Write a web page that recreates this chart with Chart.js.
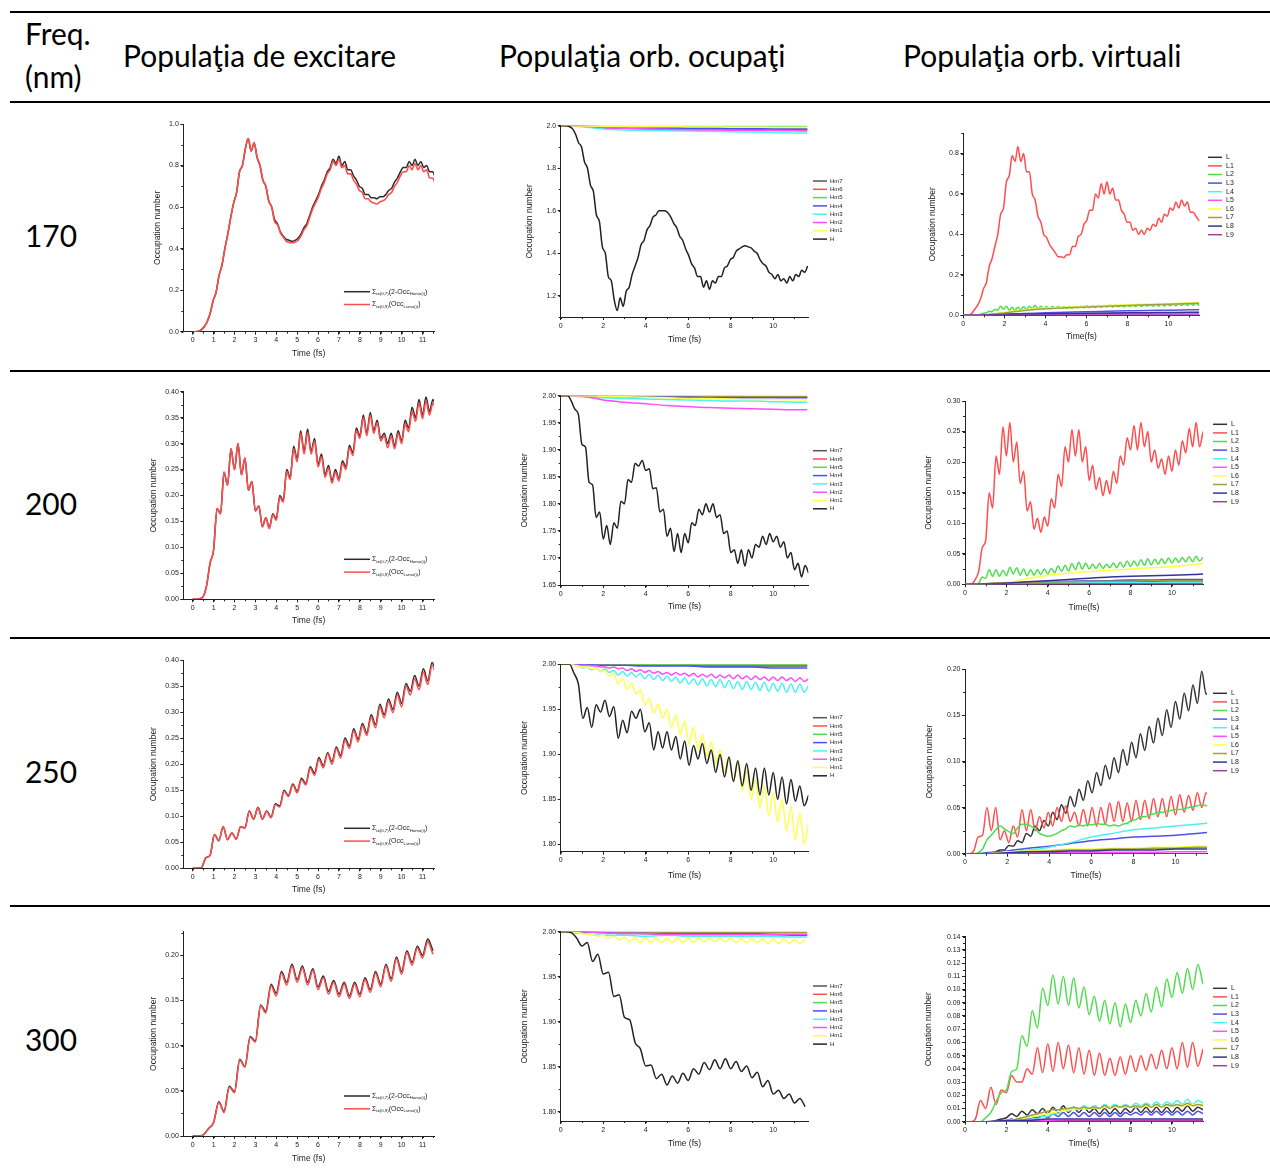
<!DOCTYPE html>
<html><head><meta charset="utf-8">
<script src="https://cdn.jsdelivr.net/npm/chart.js@4.4.0/dist/chart.umd.min.js"></script>
<style>
html,body{margin:0;padding:0;background:#fff;}
body{width:1270px;height:1168px;overflow:hidden;position:relative;}
.hl{position:absolute;left:10px;width:1260px;height:1.5px;background:#000;}
.tx{position:absolute;white-space:nowrap;color:#000;line-height:1;font-family:Lato,'Open Sans',sans-serif;}
canvas{position:absolute;}
</style></head><body>
<script>
// ---------------- DATA ----------------
const ROWS = ['170','200','250','300'];
const HEADERS = ['Freq.','(nm)','Populaţia de excitare','Populaţia orb. ocupaţi','Populaţia orb. virtuali'];

const X_TICKS_EXC = [0,1,2,3,4,5,6,7,8,9,10,11];
const X_TICKS_ORB = [0,2,4,6,8,10];
const Y_TICKS_EXC170 = [0,0.2,0.4,0.6,0.8,1.0];
const Y_TICKS_EXC200 = [0,0.05,0.1,0.15,0.2,0.25,0.3,0.35,0.4];
const Y_TICKS_EXC300 = [0,0.05,0.1,0.15,0.2];
const Y_TICKS_OCC170 = [1.2,1.4,1.6,1.8,2.0];
const Y_TICKS_OCC200 = [1.65,1.7,1.75,1.8,1.85,1.9,1.95,2.0];
const Y_TICKS_OCC250 = [1.8,1.85,1.9,1.95,2.0];
const Y_TICKS_VIR170 = [0,0.2,0.4,0.6,0.8];
const Y_TICKS_VIR200 = [0,0.05,0.1,0.15,0.2,0.25,0.3];
const Y_TICKS_VIR250 = [0,0.05,0.1,0.15,0.2];
const Y_TICKS_VIR300 = [0,0.01,0.02,0.03,0.04,0.05,0.06,0.07,0.08,0.09,0.1,0.11,0.12,0.13,0.14];

const OCC_LABELS = ['Hm7','Hm6','Hm5','Hm4','Hm3','Hm2','Hm1','H'];
const VIR_LABELS = ['L','L1','L2','L3','L4','L5','L6','L7','L8','L9'];

// time samples (fs)
const T170 = [0,0.14,0.28,0.42,0.56,0.7,0.84,0.98,1.12,1.26,1.4,1.54,1.68,1.82,1.96,2.1,2.24,2.38,2.52,2.66,2.8,2.94,3.08,3.22,3.36,3.5,3.64,3.78,3.92,4.06,4.2,4.34,4.48,4.62,4.76,4.9,5.04,5.18,5.32,5.46,5.6,5.74,5.88,6.02,6.16,6.3,6.44,6.58,6.72,6.86,7,7.14,7.28,7.42,7.56,7.7,7.84,7.98,8.12,8.26,8.4,8.54,8.68,8.82,8.96,9.1,9.24,9.38,9.52,9.66,9.8,9.94,10.08,10.22,10.36,10.5,10.64,10.78,10.92,11.06,11.2,11.34,11.48,11.62];
const T200 = [0,0.167,0.333,0.5,0.667,0.833,1,1.167,1.333,1.5,1.667,1.833,2,2.167,2.333,2.5,2.667,2.833,3,3.167,3.333,3.5,3.667,3.833,4,4.167,4.333,4.5,4.667,4.833,5,5.167,5.333,5.5,5.667,5.833,6,6.167,6.333,6.5,6.667,6.833,7,7.167,7.333,7.5,7.667,7.833,8,8.167,8.333,8.5,8.667,8.833,9,9.167,9.333,9.5,9.667,9.833,10,10.167,10.333,10.5,10.667,10.833,11,11.167,11.333,11.5,11.667];
const T250 = [0,0.208,0.417,0.625,0.833,1.042,1.25,1.458,1.667,1.875,2.083,2.292,2.5,2.708,2.917,3.125,3.333,3.542,3.75,3.958,4.167,4.375,4.583,4.792,5,5.208,5.417,5.625,5.833,6.042,6.25,6.458,6.667,6.875,7.083,7.292,7.5,7.708,7.917,8.125,8.333,8.542,8.75,8.958,9.167,9.375,9.583,9.792,10,10.208,10.417,10.625,10.833,11.042,11.25,11.458,11.667];
const T300 = [0,0.25,0.5,0.75,1,1.25,1.5,1.75,2,2.25,2.5,2.75,3,3.25,3.5,3.75,4,4.25,4.5,4.75,5,5.25,5.5,5.75,6,6.25,6.5,6.75,7,7.25,7.5,7.75,8,8.25,8.5,8.75,9,9.25,9.5,9.75,10,10.25,10.5,10.75,11,11.25,11.5];
const T_OCC = [0,1,2,3,4,5,6,7,8,9,10,11,11.6];
const T_VIR = [0,0.5,1,2,3,4,5,6,7,8,9,10,11,11.5];

// ---- 170 nm ----
const EXC170_HOMO = [0,0,0.002,0.01,0.025,0.05,0.09,0.15,0.19,0.27,0.32,0.40,0.47,0.55,0.62,0.67,0.77,0.80,0.88,0.93,0.87,0.91,0.84,0.80,0.73,0.70,0.63,0.60,0.54,0.52,0.48,0.46,0.445,0.44,0.435,0.44,0.45,0.47,0.50,0.52,0.56,0.60,0.63,0.66,0.70,0.73,0.77,0.79,0.83,0.81,0.845,0.80,0.82,0.78,0.78,0.75,0.73,0.70,0.69,0.66,0.66,0.645,0.645,0.64,0.65,0.65,0.66,0.68,0.69,0.72,0.74,0.77,0.79,0.79,0.82,0.80,0.83,0.80,0.82,0.79,0.80,0.77,0.77,0.74];
const EXC170_LUMO = [0,0,0.002,0.01,0.025,0.05,0.09,0.15,0.19,0.27,0.32,0.40,0.47,0.55,0.62,0.67,0.77,0.80,0.88,0.93,0.87,0.91,0.84,0.80,0.73,0.70,0.63,0.60,0.53,0.515,0.475,0.455,0.435,0.43,0.428,0.432,0.44,0.46,0.49,0.51,0.55,0.59,0.62,0.65,0.69,0.72,0.76,0.78,0.82,0.80,0.83,0.79,0.80,0.76,0.76,0.73,0.71,0.68,0.67,0.64,0.64,0.625,0.62,0.615,0.625,0.63,0.64,0.66,0.67,0.70,0.72,0.75,0.77,0.77,0.80,0.78,0.81,0.78,0.80,0.77,0.78,0.74,0.74,0.71];
const OCC170_H = [2.0,2.0,2.0,1.995,1.985,1.96,1.92,1.90,1.83,1.80,1.72,1.69,1.58,1.55,1.43,1.40,1.29,1.27,1.18,1.13,1.19,1.15,1.22,1.24,1.30,1.34,1.38,1.44,1.46,1.51,1.53,1.57,1.58,1.60,1.60,1.60,1.59,1.57,1.54,1.52,1.48,1.46,1.42,1.39,1.35,1.33,1.29,1.29,1.24,1.27,1.23,1.27,1.26,1.29,1.29,1.33,1.34,1.37,1.38,1.41,1.42,1.43,1.435,1.43,1.425,1.41,1.40,1.37,1.35,1.34,1.31,1.30,1.28,1.30,1.27,1.28,1.26,1.29,1.27,1.30,1.29,1.32,1.31,1.34];
const OCC170_HM7 = [2.0,2.0,1.995,1.993,1.992,1.99,1.99,1.99,1.988,1.987,1.986,1.985,1.985];
const OCC170_HM6 = [2.0,1.998,1.99,1.988,1.986,1.985,1.984,1.983,1.982,1.981,1.98,1.98,1.98];
const OCC170_HM5 = [2.0,2.0,1.999,1.999,1.999,1.999,1.999,1.999,1.999,1.999,1.999,1.999,1.999];
const OCC170_HM4 = [2.0,1.998,1.99,1.99,1.99,1.988,1.988,1.987,1.987,1.986,1.986,1.985,1.985];
const OCC170_HM3 = [2.0,1.995,1.985,1.98,1.978,1.976,1.975,1.973,1.971,1.97,1.968,1.966,1.965];
const OCC170_HM2 = [2.0,1.998,1.992,1.988,1.985,1.983,1.981,1.98,1.979,1.978,1.977,1.976,1.975];
const OCC170_HM1 = [2.0,1.999,1.997,1.996,1.995,1.995,1.994,1.994,1.993,1.993,1.992,1.992,1.992];
const VIR170_L1 = [0,0,0.002,0.01,0.03,0.05,0.08,0.13,0.16,0.24,0.28,0.34,0.40,0.50,0.53,0.66,0.69,0.79,0.76,0.835,0.76,0.80,0.71,0.71,0.60,0.57,0.49,0.46,0.40,0.385,0.35,0.33,0.31,0.29,0.29,0.285,0.30,0.30,0.34,0.34,0.39,0.40,0.45,0.47,0.52,0.52,0.60,0.58,0.65,0.60,0.66,0.60,0.63,0.57,0.57,0.52,0.50,0.46,0.46,0.42,0.43,0.40,0.42,0.40,0.43,0.42,0.45,0.44,0.48,0.46,0.50,0.49,0.53,0.52,0.56,0.53,0.57,0.54,0.56,0.51,0.51,0.49,0.47,0.46];
const VIR170_L2 = [0,0,0,0,0,0.002,0.005,0.01,0.012,0.02,0.018,0.03,0.025,0.045,0.03,0.045,0.025,0.04,0.025,0.04,0.028,0.042,0.03,0.045,0.032,0.048,0.032,0.045,0.033,0.044,0.034,0.044,0.035,0.043,0.035,0.042,0.035,0.043,0.036,0.044,0.037,0.045,0.037,0.046,0.038,0.047,0.039,0.048,0.04,0.049,0.041,0.05,0.041,0.05,0.042,0.051,0.042,0.052,0.043,0.052,0.044,0.053,0.044,0.054,0.045,0.054,0.045,0.055,0.046,0.056,0.046,0.056,0.047,0.057,0.047,0.058,0.048,0.058,0.049,0.059,0.05,0.06,0.05,0.06];
const VIR170_L = [0,0,0.001,0.003,0.004,0.005,0.006,0.007,0.008,0.008,0.009,0.009,0.01,0.01];
const VIR170_L3 = [0,0,0.002,0.006,0.009,0.012,0.015,0.018,0.02,0.022,0.024,0.025,0.027,0.028];
const VIR170_L4 = [0,0,0.001,0.002,0.003,0.004,0.004,0.005,0.005,0.006,0.006,0.006,0.007,0.007];
const VIR170_L5 = [0,0,0,0.001,0.001,0.001,0.001,0.001,0.001,0.001,0.001,0.001,0.001,0.001];
const VIR170_L6 = [0,0,0.002,0.015,0.028,0.036,0.04,0.044,0.048,0.052,0.055,0.058,0.061,0.063];
const VIR170_L7 = [0,0,0.002,0.012,0.024,0.032,0.037,0.041,0.045,0.049,0.052,0.055,0.058,0.06];
const VIR170_L8 = [0,0,0.001,0.004,0.006,0.008,0.009,0.01,0.011,0.012,0.013,0.014,0.015,0.015];
const VIR170_L9 = [0,0,0,0,0.0005,0.0005,0.0005,0.0005,0.0005,0.0005,0.0005,0.0005,0.0005,0.0005];

// ---- 200 nm ----
const EXC200_HOMO = [0,0,0.001,0.005,0.027,0.07,0.095,0.175,0.165,0.245,0.22,0.29,0.25,0.30,0.24,0.272,0.21,0.227,0.17,0.18,0.14,0.157,0.138,0.165,0.155,0.20,0.19,0.25,0.235,0.295,0.27,0.325,0.285,0.328,0.285,0.31,0.26,0.28,0.24,0.258,0.228,0.25,0.232,0.267,0.255,0.297,0.282,0.33,0.315,0.355,0.32,0.36,0.325,0.345,0.31,0.32,0.30,0.32,0.295,0.325,0.305,0.345,0.33,0.37,0.35,0.385,0.355,0.39,0.362,0.385,0.365];
const EXC200_LUMO = [0,0,0.001,0.005,0.027,0.07,0.095,0.175,0.165,0.245,0.22,0.29,0.25,0.30,0.24,0.272,0.21,0.227,0.17,0.18,0.14,0.157,0.136,0.163,0.152,0.197,0.187,0.246,0.231,0.29,0.265,0.32,0.28,0.322,0.28,0.305,0.255,0.275,0.235,0.253,0.224,0.245,0.228,0.262,0.25,0.292,0.277,0.325,0.31,0.35,0.315,0.355,0.32,0.34,0.305,0.315,0.292,0.314,0.29,0.32,0.30,0.338,0.323,0.362,0.343,0.378,0.348,0.382,0.355,0.378,0.36];
const OCC200_H = [2.0,2.0,2.0,1.99,1.975,1.965,1.91,1.905,1.84,1.835,1.775,1.785,1.735,1.76,1.725,1.765,1.755,1.805,1.80,1.845,1.84,1.875,1.87,1.88,1.862,1.865,1.828,1.83,1.785,1.79,1.74,1.755,1.712,1.745,1.71,1.745,1.728,1.765,1.76,1.79,1.78,1.80,1.785,1.80,1.775,1.78,1.745,1.75,1.71,1.715,1.69,1.715,1.685,1.715,1.70,1.725,1.72,1.74,1.725,1.745,1.73,1.74,1.72,1.73,1.70,1.71,1.678,1.69,1.665,1.686,1.672];
const OCC200_HM7 = [2.0,2.0,1.999,1.999,1.998,1.998,1.998,1.998,1.997,1.997,1.997,1.997,1.997];
const OCC200_HM6 = [2.0,2.0,2.0,1.999,1.999,1.999,1.999,1.999,1.999,1.998,1.998,1.998,1.998];
const OCC200_HM5 = [2.0,2.0,2.0,2.0,2.0,2.0,2.0,2.0,2.0,2.0,2.0,2.0,2.0];
const OCC200_HM4 = [2.0,2.0,1.998,1.998,1.997,1.997,1.997,1.996,1.996,1.996,1.996,1.996,1.996];
const OCC200_HM3 = [2.0,1.998,1.996,1.995,1.994,1.993,1.992,1.991,1.99,1.99,1.989,1.988,1.988];
const OCC200_HM2 = [2.0,1.999,1.992,1.988,1.985,1.982,1.98,1.978,1.977,1.976,1.975,1.974,1.974];
const OCC200_HM1 = [2.0,2.0,1.999,1.998,1.997,1.996,1.995,1.995,1.994,1.993,1.993,1.992,1.992];
const VIR200_L1 = [0,0,0.001,0.008,0.022,0.06,0.072,0.15,0.125,0.21,0.18,0.258,0.21,0.265,0.20,0.233,0.165,0.185,0.12,0.135,0.09,0.108,0.085,0.11,0.095,0.14,0.125,0.18,0.16,0.225,0.20,0.253,0.21,0.253,0.20,0.225,0.17,0.195,0.155,0.175,0.145,0.17,0.148,0.185,0.165,0.21,0.195,0.24,0.22,0.26,0.22,0.265,0.225,0.25,0.20,0.22,0.19,0.205,0.18,0.21,0.185,0.22,0.195,0.235,0.215,0.255,0.225,0.265,0.225,0.25];
const VIR200_L2 = [0,0,0,0,0.002,0.012,0.01,0.024,0.013,0.024,0.013,0.023,0.014,0.028,0.017,0.027,0.015,0.025,0.014,0.024,0.015,0.024,0.016,0.025,0.017,0.026,0.019,0.03,0.021,0.031,0.022,0.034,0.024,0.036,0.025,0.035,0.025,0.033,0.026,0.034,0.026,0.033,0.027,0.035,0.027,0.036,0.028,0.038,0.029,0.038,0.03,0.04,0.031,0.042,0.032,0.041,0.033,0.042,0.034,0.043,0.035,0.043,0.036,0.044,0.037,0.045,0.037,0.046,0.038,0.044];
const VIR200_L = [0,0,0.001,0.002,0.003,0.003,0.004,0.004,0.005,0.005,0.005,0.006,0.006,0.006];
const VIR200_L3 = [0,0,0.001,0.002,0.003,0.004,0.005,0.006,0.006,0.007,0.007,0.008,0.008,0.008];
const VIR200_L4 = [0,0,0,0.001,0.001,0.002,0.002,0.002,0.003,0.003,0.003,0.003,0.003,0.003];
const VIR200_L5 = [0,0,0,0,0.0005,0.0005,0.0005,0.0005,0.0005,0.0005,0.0005,0.0005,0.0005,0.0005];
const VIR200_L6 = [0,0,0.001,0.003,0.009,0.015,0.018,0.021,0.023,0.025,0.027,0.029,0.032,0.034];
const VIR200_L7 = [0,0,0.001,0.002,0.003,0.004,0.004,0.005,0.005,0.005,0.006,0.006,0.006,0.006];
const VIR200_L8 = [0,0,0.001,0.002,0.004,0.006,0.008,0.01,0.012,0.013,0.014,0.015,0.016,0.017];
const VIR200_L9 = [0,0,0,0,0,0,0,0.0005,0.0005,0.0005,0.0005,0.0005,0.0005,0.0005];

// ---- 250 nm ----
const EXC250_HOMO = [0,0,0.001,0.02,0.025,0.065,0.053,0.08,0.055,0.068,0.056,0.08,0.078,0.11,0.095,0.117,0.095,0.11,0.098,0.124,0.12,0.15,0.14,0.162,0.148,0.173,0.163,0.195,0.183,0.213,0.197,0.222,0.205,0.233,0.217,0.25,0.235,0.268,0.248,0.278,0.26,0.295,0.276,0.315,0.295,0.325,0.305,0.338,0.317,0.355,0.34,0.37,0.35,0.383,0.36,0.395,0.375];
const EXC250_LUMO = [0,0,0.001,0.02,0.025,0.065,0.053,0.08,0.055,0.068,0.056,0.08,0.077,0.109,0.094,0.116,0.094,0.109,0.097,0.122,0.118,0.148,0.138,0.16,0.145,0.17,0.16,0.192,0.179,0.209,0.193,0.22,0.2,0.23,0.212,0.246,0.23,0.264,0.243,0.274,0.255,0.29,0.27,0.31,0.289,0.32,0.299,0.333,0.31,0.35,0.333,0.364,0.343,0.377,0.353,0.39,0.368];
const OCC250_H = [2.0,2.0,2.0,1.99,1.978,1.94,1.952,1.93,1.955,1.947,1.96,1.942,1.953,1.918,1.938,1.924,1.948,1.94,1.95,1.925,1.935,1.905,1.925,1.907,1.925,1.905,1.92,1.895,1.915,1.888,1.91,1.895,1.912,1.89,1.905,1.88,1.9,1.875,1.897,1.87,1.893,1.865,1.89,1.86,1.885,1.855,1.885,1.855,1.88,1.85,1.875,1.845,1.872,1.848,1.865,1.843,1.855];
const OCC250_HM1 = [2.0,2.0,2.0,1.999,1.998,1.997,1.997,1.995,1.995,1.992,1.993,1.987,1.99,1.978,1.984,1.972,1.979,1.967,1.972,1.955,1.962,1.946,1.956,1.94,1.95,1.93,1.944,1.922,1.937,1.912,1.93,1.905,1.922,1.898,1.914,1.89,1.905,1.88,1.897,1.87,1.89,1.86,1.882,1.85,1.872,1.84,1.865,1.832,1.857,1.825,1.85,1.815,1.842,1.805,1.835,1.80,1.825];
const OCC250_HM3 = [2.0,2.0,2.0,1.999,1.998,1.996,1.997,1.994,1.996,1.992,1.995,1.991,1.993,1.988,1.992,1.987,1.991,1.986,1.99,1.984,1.989,1.983,1.988,1.982,1.987,1.981,1.986,1.979,1.985,1.978,1.984,1.977,1.984,1.976,1.983,1.975,1.983,1.974,1.982,1.973,1.981,1.972,1.981,1.972,1.98,1.971,1.98,1.97,1.979,1.97,1.979,1.969,1.978,1.969,1.978,1.969,1.977];
const OCC250_HM2 = [2.0,2.0,2.0,2.0,1.999,1.999,1.999,1.998,1.998,1.997,1.997,1.996,1.997,1.995,1.996,1.993,1.995,1.992,1.994,1.991,1.993,1.99,1.992,1.989,1.991,1.988,1.991,1.988,1.99,1.987,1.99,1.986,1.989,1.986,1.989,1.985,1.988,1.985,1.988,1.984,1.988,1.984,1.987,1.983,1.987,1.983,1.986,1.982,1.986,1.982,1.986,1.982,1.985,1.981,1.985,1.981,1.984];
const OCC250_HM7 = [2.0,2.0,2.0,1.999,1.999,1.999,1.999,1.998,1.998,1.998,1.998,1.998,1.998];
const OCC250_HM6 = [2.0,2.0,2.0,2.0,1.999,1.999,1.999,1.999,1.999,1.999,1.999,1.999,1.999];
const OCC250_HM5 = [2.0,2.0,2.0,2.0,2.0,2.0,2.0,2.0,2.0,2.0,2.0,2.0,2.0];
const OCC250_HM4 = [2.0,2.0,1.999,1.999,1.998,1.998,1.998,1.997,1.997,1.997,1.996,1.996,1.996];
const VIR250_L = [0,0,0,0,0,0.0005,0.001,0.002,0.004,0.004,0.009,0.008,0.014,0.012,0.022,0.019,0.03,0.025,0.036,0.03,0.045,0.037,0.053,0.044,0.062,0.051,0.07,0.058,0.079,0.066,0.088,0.074,0.096,0.081,0.104,0.088,0.113,0.096,0.121,0.104,0.13,0.112,0.138,0.12,0.147,0.128,0.156,0.137,0.165,0.146,0.174,0.155,0.183,0.163,0.198,0.173,0.186];
const VIR250_L1 = [0,0,0.003,0.018,0.02,0.05,0.025,0.05,0.015,0.025,0.012,0.03,0.018,0.048,0.025,0.048,0.025,0.04,0.028,0.045,0.03,0.05,0.035,0.052,0.035,0.045,0.03,0.048,0.03,0.05,0.03,0.05,0.032,0.055,0.035,0.057,0.035,0.055,0.035,0.058,0.037,0.058,0.038,0.06,0.04,0.06,0.04,0.062,0.042,0.064,0.045,0.063,0.047,0.066,0.05,0.066,0.052];
const VIR250_L2 = [0,0,0,0.001,0.005,0.015,0.02,0.026,0.03,0.027,0.024,0.022,0.028,0.032,0.032,0.03,0.027,0.022,0.02,0.019,0.02,0.022,0.025,0.027,0.03,0.029,0.031,0.03,0.032,0.031,0.033,0.032,0.032,0.03,0.031,0.03,0.032,0.033,0.036,0.037,0.04,0.04,0.042,0.043,0.045,0.045,0.046,0.047,0.048,0.048,0.049,0.05,0.051,0.052,0.053,0.052,0.051];
const VIR250_L3 = [0,0,0.001,0.003,0.006,0.008,0.011,0.014,0.016,0.018,0.019,0.02,0.022,0.023];
const VIR250_L4 = [0,0,0,0.001,0.004,0.007,0.012,0.018,0.022,0.026,0.028,0.03,0.032,0.033];
const VIR250_L5 = [0,0,0,0.0005,0.001,0.001,0.001,0.0015,0.0015,0.0015,0.0015,0.002,0.002,0.002];
const VIR250_L6 = [0,0,0,0.002,0.003,0.004,0.005,0.005,0.006,0.006,0.007,0.007,0.008,0.008];
const VIR250_L7 = [0,0,0,0.001,0.002,0.003,0.004,0.004,0.005,0.005,0.006,0.006,0.007,0.007];
const VIR250_L8 = [0,0,0,0.001,0.002,0.002,0.003,0.003,0.004,0.004,0.004,0.005,0.005,0.005];
const VIR250_L9 = [0,0,0,0,0,0,0,0,0,0,0,0,0,0];

// ---- 300 nm ----
const EXC300_HOMO = [0,0,0.001,0.008,0.015,0.038,0.027,0.055,0.049,0.085,0.077,0.11,0.105,0.145,0.138,0.168,0.158,0.182,0.17,0.19,0.173,0.188,0.17,0.185,0.165,0.177,0.16,0.172,0.157,0.17,0.155,0.17,0.157,0.175,0.162,0.182,0.168,0.19,0.174,0.198,0.182,0.205,0.192,0.21,0.2,0.218,0.205];
const EXC300_LUMO = [0,0,0.001,0.008,0.015,0.037,0.026,0.054,0.048,0.084,0.076,0.109,0.104,0.144,0.136,0.166,0.155,0.18,0.167,0.188,0.17,0.186,0.167,0.183,0.162,0.175,0.157,0.17,0.154,0.168,0.152,0.168,0.154,0.173,0.159,0.18,0.165,0.188,0.171,0.196,0.179,0.203,0.189,0.208,0.197,0.215,0.201];
const OCC300_H = [2.0,2.0,1.999,1.993,1.984,1.988,1.967,1.975,1.953,1.955,1.928,1.93,1.905,1.902,1.877,1.87,1.851,1.852,1.837,1.842,1.83,1.84,1.832,1.843,1.835,1.848,1.842,1.855,1.847,1.858,1.848,1.859,1.848,1.856,1.845,1.851,1.838,1.844,1.828,1.835,1.82,1.824,1.815,1.82,1.81,1.815,1.806];
const OCC300_HM1 = [2.0,2.0,2.0,1.999,1.998,1.997,1.997,1.995,1.996,1.993,1.995,1.991,1.994,1.989,1.993,1.988,1.993,1.988,1.993,1.988,1.993,1.988,1.993,1.988,1.993,1.988,1.993,1.989,1.993,1.989,1.993,1.989,1.993,1.988,1.992,1.988,1.992,1.988,1.992,1.987,1.992,1.987,1.992,1.987,1.991,1.987,1.991];
const OCC300_HM7 = [2.0,2.0,1.999,1.999,1.998,1.998,1.998,1.998,1.998,1.998,1.997,1.997,1.997];
const OCC300_HM6 = [2.0,2.0,2.0,1.999,1.999,1.999,1.999,1.999,1.999,1.999,1.999,1.999,1.999];
const OCC300_HM5 = [2.0,2.0,2.0,2.0,2.0,2.0,2.0,2.0,2.0,2.0,2.0,2.0,2.0];
const OCC300_HM4 = [2.0,2.0,1.999,1.998,1.998,1.997,1.997,1.997,1.997,1.997,1.997,1.996,1.996];
const OCC300_HM3 = [2.0,1.998,1.996,1.996,1.995,1.996,1.995,1.995,1.995,1.995,1.995,1.994,1.994];
const OCC300_HM2 = [2.0,2.0,1.999,1.998,1.998,1.997,1.997,1.997,1.997,1.997,1.997,1.997,1.997];
const VIR300_L2 = [0,0,0,0,0.003,0.007,0.015,0.022,0.024,0.038,0.04,0.065,0.057,0.084,0.071,0.101,0.088,0.111,0.089,0.11,0.088,0.109,0.086,0.102,0.081,0.095,0.076,0.092,0.074,0.09,0.072,0.089,0.075,0.092,0.08,0.097,0.083,0.102,0.087,0.108,0.094,0.113,0.097,0.116,0.1,0.119,0.104];
const VIR300_L1 = [0,0,0.002,0.016,0.01,0.026,0.013,0.024,0.022,0.035,0.03,0.03,0.04,0.036,0.056,0.037,0.059,0.038,0.06,0.04,0.058,0.037,0.056,0.036,0.054,0.035,0.052,0.035,0.048,0.035,0.049,0.036,0.05,0.038,0.05,0.039,0.051,0.04,0.054,0.04,0.056,0.04,0.06,0.041,0.06,0.042,0.055];
const VIR300_L = [0,0,0,0,0,0,0.001,0.002,0.003,0.006,0.004,0.008,0.005,0.009,0.006,0.01,0.006,0.011,0.007,0.012,0.007,0.011,0.007,0.011,0.007,0.01,0.006,0.01,0.006,0.01,0.006,0.01,0.007,0.011,0.007,0.011,0.007,0.011,0.007,0.011,0.007,0.011,0.008,0.012,0.008,0.011,0.009];
const VIR300_L4 = [0,0,0,0,0,0,0,0,0,0,0,0.001,0.001,0.002,0.002,0.004,0.004,0.006,0.006,0.009,0.008,0.011,0.009,0.012,0.01,0.012,0.01,0.013,0.011,0.013,0.011,0.013,0.011,0.014,0.012,0.014,0.012,0.015,0.012,0.015,0.013,0.016,0.013,0.017,0.013,0.016,0.014];
const VIR300_L7 = [0,0,0,0,0,0,0,0,0.001,0.001,0.002,0.003,0.004,0.005,0.006,0.007,0.008,0.009,0.009,0.01,0.01,0.011,0.01,0.011,0.01,0.011,0.01,0.012,0.01,0.012,0.011,0.012,0.011,0.012,0.011,0.013,0.011,0.013,0.011,0.013,0.012,0.013,0.012,0.014,0.012,0.013,0.012];
const VIR300_L3 = [0,0,0,0,0,0,0,0.001,0.001,0.002,0.001,0.002,0.002,0.003,0.003,0.005,0.003,0.006,0.004,0.007,0.004,0.007,0.004,0.007,0.004,0.007,0.004,0.007,0.004,0.007,0.004,0.007,0.005,0.007,0.005,0.008,0.005,0.008,0.005,0.008,0.005,0.008,0.005,0.008,0.005,0.008,0.006];
const VIR300_L5 = [0,0,0,0.0005,0.001,0.001,0.001,0.001,0.001,0.001,0.001,0.001,0.001,0.001];
const VIR300_L6 = [0,0,0,0.001,0.003,0.006,0.009,0.01,0.011,0.011,0.012,0.012,0.013,0.013];
const VIR300_L8 = [0,0,0,0.001,0.001,0.002,0.002,0.002,0.002,0.002,0.002,0.002,0.002,0.002];
const VIR300_L9 = [0,0,0,0,0,0,0.0005,0.0005,0.0005,0.0005,0.0005,0.0005,0.0005,0.0005];

// ---------------- STYLE ----------------
const FONT = "'Liberation Sans', Arial, sans-serif";
const C_BLACK = '#2a2a2a', C_RED = '#ff4d4d';
const OCC_COLORS = ['#555555','#ff4d4d','#4ddd4d','#4d4dff','#4df2f2','#ff4dff','#ffff4d','#222222'];
const VIR_COLORS = ['#333333','#ff4d4d','#4ddd4d','#5050e6','#4df0f0','#ff4dff','#ffff40','#a0a040','#333399','#a040a0'];

Chart.defaults.font.family = FONT;
Chart.defaults.color = '#222';

const minorPlugin = {
  id: 'minor',
  afterDraw(chart, args, o) {
    if (!o || (!o.x && !o.y)) return;
    const {ctx, chartArea: ca, scales} = chart;
    ctx.save(); ctx.strokeStyle = '#222'; ctx.lineWidth = 1;
    if (o.x) {
      const s = scales.x;
      for (let k = Math.ceil(s.min / o.x - 1e-9); k * o.x <= s.max + 1e-9; k++) {
        const p = Math.round(s.getPixelForValue(k * o.x)) + 0.5;
        ctx.beginPath(); ctx.moveTo(p, ca.bottom); ctx.lineTo(p, ca.bottom + 2); ctx.stroke();
      }
    }
    if (o.y) {
      const s = scales.y;
      for (let k = Math.ceil(s.min / o.y - 1e-9); k * o.y <= s.max + 1e-9; k++) {
        const p = Math.round(s.getPixelForValue(k * o.y)) + 0.5;
        ctx.beginPath(); ctx.moveTo(ca.left, p); ctx.lineTo(ca.left - 2, p); ctx.stroke();
      }
    }
    ctx.restore();
  }
};
const legendPlugin = {
  id: 'lg',
  afterDraw(chart, args, o) {
    if (!o || !o.items) return;
    const ctx = chart.ctx; ctx.save();
    o.items.forEach((it, i) => {
      const y = o.y0 + i * o.dy - o.oy;
      ctx.strokeStyle = it.c; ctx.lineWidth = 1.5;
      ctx.beginPath(); ctx.moveTo(o.x1 - o.ox, y); ctx.lineTo(o.x2 - o.ox, y); ctx.stroke();
      ctx.fillStyle = '#222'; ctx.textBaseline = 'middle'; ctx.textAlign = 'left';
      let x = o.tx - o.ox;
      if (it.parts) {
        it.parts.forEach(p => {
          const sub = p[1];
          ctx.font = (sub ? o.fs * 0.62 : o.fs) + 'px ' + FONT;
          ctx.fillText(p[0], x, y + (sub ? o.fs * 0.32 : 0));
          x += ctx.measureText(p[0]).width;
        });
      } else {
        ctx.font = o.fs + 'px ' + FONT;
        ctx.fillText(it.t, x, y);
      }
    });
    ctx.restore();
  }
};
Chart.register(minorPlugin, legendPlugin);

function makeChart(c) {
  const left = Math.round(c.ytx - 5.1);
  const top = Math.round(c.T - 7);
  const right = c.cr;
  const bottom = Math.round(c.xty + 5.1);
  const W = right - left, H = bottom - top;
  const cv = document.createElement('canvas');
  cv.width = W; cv.height = H;
  Object.assign(cv.style, {left: left + 'px', top: top + 'px', width: W + 'px', height: H + 'px'});
  document.body.appendChild(cv);
  const yW = c.L - left, xH = bottom - c.B;
  // later series are painted over earlier ones (order: lower value = drawn on top)
  const datasets = c.series.map((s, idx) => {
    const n = Math.min(s[2].length, s[3].length);
    return {
      label: s[0], borderColor: s[1], borderWidth: s[4] || 1.5, pointRadius: 0, fill: false,
      cubicInterpolationMode: 'monotone', order: -idx,
      data: s[2].slice(0, n).map((x, i) => ({x: x, y: s[3][i]}))
    };
  });
  const lg = c.legend ? Object.assign({ox: left, oy: top}, c.legend) : {};
  const axisCommon = {
    grid: {display: true, drawOnChartArea: false, drawTicks: true, tickLength: 3, color: '#222', lineWidth: 1},
    border: {display: true, color: '#222', width: 1}
  };
  new Chart(cv, {
    type: 'line',
    data: {datasets},
    options: {
      responsive: false, animation: false, maintainAspectRatio: false, devicePixelRatio: 1,
      layout: {padding: {top: c.T - top, right: right - c.R, left: 0, bottom: 0}},
      plugins: {legend: {display: false}, tooltip: {enabled: false}, minor: {x: c.mx, y: c.my}, lg: lg},
      scales: {
        x: Object.assign({
          type: 'linear', position: 'bottom', min: c.xr[0], max: c.xr[1],
          afterFit: s => { s.height = xH; },
          afterBuildTicks: s => { s.ticks = c.xt.map(v => ({value: v})); },
          ticks: {font: {size: 7}, color: '#222', padding: 1.5, maxRotation: 0, autoSkip: false, callback: v => String(v)},
          title: {display: true, text: c.xtitle, font: {size: 8.5}, color: '#222', padding: 0}
        }, axisCommon),
        y: Object.assign({
          type: 'linear', position: 'left', min: c.yr[0], max: c.yr[1],
          afterFit: s => { s.width = yW; },
          afterBuildTicks: s => { s.ticks = c.yt.map(v => ({value: v})); },
          ticks: {font: {size: 7}, color: '#222', padding: 1.5, autoSkip: false, callback: v => Number(v).toFixed(c.dec)},
          title: {display: true, text: 'Occupation number', font: {size: 8.5}, color: '#222', padding: 0}
        }, axisCommon)
      }
    }
  });
}

// --------------- series builders ---------------
function excSeries(t, homo, lumo) {
  return [['homo', C_BLACK, t, homo, 1.5], ['lumo', C_RED, t, lumo, 1.6]];
}
function excLegend(B) {
  return {x1: 344, x2: 370, tx: 372, y0: B - 40, dy: 12.8, fs: 7, items: [
    {c: C_BLACK, parts: [['Σ', 0], ['i=(0,7)', 1], ['(2-Occ', 0], ['Homo(i)', 1], [')', 0]]},
    {c: C_RED, parts: [['Σ', 0], ['i=(0,9)', 1], ['(Occ', 0], ['Lumo(i)', 1], [')', 0]]}
  ]};
}
function occLegend(y0) {
  return {x1: 813, x2: 827, tx: 830, y0: y0, dy: 8.3, fs: 6, items: OCC_LABELS.map((t, i) => ({t, c: OCC_COLORS[i]}))};
}
function virLegend(y0, x1) {
  return {x1: x1, x2: x1 + 14, tx: x1 + 18, y0: y0, dy: 8.6, fs: 7, items: VIR_LABELS.map((t, i) => ({t, c: VIR_COLORS[i]}))};
}
function occSeries(list) { return list.map((s, i) => [OCC_LABELS[i], OCC_COLORS[i], s[0], s[1]]); }
function virSeries(list) { return list.map((s, i) => [VIR_LABELS[i], VIR_COLORS[i], s[0], s[1]]); }

const COL1 = {L: 183.3, R: 434, xr: [-0.45, 11.55], xt: X_TICKS_EXC, mx: 0.5, cr: 440, xtitle: 'Time (fs)'};
const COL2 = {L: 560.7, R: 808.3, xr: [0, 11.65], xt: X_TICKS_ORB, mx: 1, cr: 852, xtitle: 'Time (fs)'};
const COL3 = {xr: [0, 11.5], xt: X_TICKS_ORB, mx: 1, cr: 1250, xtitle: 'Time(fs)'};

const charts = [
  // 170
  Object.assign({}, COL1, {T: 124, B: 331.7, yr: [0, 1.0], yt: Y_TICKS_EXC170, my: 0.1, dec: 1, ytx: 158.3, xty: 354.3,
    series: excSeries(T170, EXC170_HOMO, EXC170_LUMO), legend: excLegend(331.7)}),
  Object.assign({}, COL2, {T: 125.7, B: 317, yr: [1.1, 2.0], yt: Y_TICKS_OCC170, my: 0.1, dec: 1, ytx: 530, xty: 340,
    series: occSeries([[T_OCC, OCC170_HM7], [T_OCC, OCC170_HM6], [T_OCC, OCC170_HM5], [T_OCC, OCC170_HM4], [T_OCC, OCC170_HM3], [T_OCC, OCC170_HM2], [T_OCC, OCC170_HM1], [T170, OCC170_H]]),
    legend: occLegend(181)}),
  Object.assign({}, COL3, {L: 963.3, R: 1199.3, T: 133.3, B: 315.3, yr: [0, 0.9], yt: Y_TICKS_VIR170, my: 0.1, dec: 1, ytx: 932.7, xty: 337,
    series: virSeries([[T_VIR, VIR170_L], [T170, VIR170_L1], [T170, VIR170_L2], [T_VIR, VIR170_L3], [T_VIR, VIR170_L4], [T_VIR, VIR170_L5], [T_VIR, VIR170_L6], [T_VIR, VIR170_L7], [T_VIR, VIR170_L8], [T_VIR, VIR170_L9]]),
    legend: virLegend(157.3, 1208)}),
  // 200
  Object.assign({}, COL1, {T: 391.7, B: 599.3, yr: [0, 0.4], yt: Y_TICKS_EXC200, my: 0.025, dec: 2, ytx: 154, xty: 621,
    series: excSeries(T200, EXC200_HOMO, EXC200_LUMO), legend: excLegend(599.3)}),
  Object.assign({}, COL2, {T: 395.7, B: 585, yr: [1.65, 2.0], yt: Y_TICKS_OCC200, my: 0.025, dec: 2, ytx: 525, xty: 606.7,
    series: occSeries([[T_OCC, OCC200_HM7], [T_OCC, OCC200_HM6], [T_OCC, OCC200_HM5], [T_OCC, OCC200_HM4], [T_OCC, OCC200_HM3], [T_OCC, OCC200_HM2], [T_OCC, OCC200_HM1], [T200, OCC200_H]]),
    legend: occLegend(450.7)}),
  Object.assign({}, COL3, {L: 965, R: 1203, T: 401, B: 584.3, yr: [0, 0.3], yt: Y_TICKS_VIR200, my: 0.025, dec: 2, ytx: 929.3, xty: 608.3,
    series: virSeries([[T_VIR, VIR200_L], [T200, VIR200_L1], [T200, VIR200_L2], [T_VIR, VIR200_L3], [T_VIR, VIR200_L4], [T_VIR, VIR200_L5], [T_VIR, VIR200_L6], [T_VIR, VIR200_L7], [T_VIR, VIR200_L8], [T_VIR, VIR200_L9]]),
    legend: virLegend(424.3, 1213)}),
  // 250
  Object.assign({}, COL1, {T: 660, B: 868.3, yr: [0, 0.4], yt: Y_TICKS_EXC200, my: 0.025, dec: 2, ytx: 154, xty: 890,
    series: excSeries(T250, EXC250_HOMO, EXC250_LUMO), legend: excLegend(868.3)}),
  Object.assign({}, COL2, {T: 664.3, B: 851.7, yr: [1.792, 2.0], yt: Y_TICKS_OCC250, my: 0.025, dec: 2, ytx: 525, xty: 875.7,
    series: occSeries([[T_OCC, OCC250_HM7], [T_OCC, OCC250_HM6], [T_OCC, OCC250_HM5], [T_OCC, OCC250_HM4], [T250, OCC250_HM3], [T250, OCC250_HM2], [T250, OCC250_HM1], [T250, OCC250_H]]),
    legend: occLegend(717.7)}),
  Object.assign({}, COL3, {L: 965, R: 1207, T: 669.3, B: 853.7, yr: [0, 0.2], yt: Y_TICKS_VIR250, my: 0.025, dec: 2, ytx: 930, xty: 875.7,
    series: virSeries([[T250, VIR250_L], [T250, VIR250_L1], [T250, VIR250_L2], [T_VIR, VIR250_L3], [T_VIR, VIR250_L4], [T_VIR, VIR250_L5], [T_VIR, VIR250_L6], [T_VIR, VIR250_L7], [T_VIR, VIR250_L8], [T_VIR, VIR250_L9]]),
    legend: virLegend(693.3, 1213)}),
  // 300
  Object.assign({}, COL1, {T: 931.7, B: 1136, yr: [0, 0.226], yt: Y_TICKS_EXC300, my: 0.025, dec: 2, ytx: 154, xty: 1159,
    series: excSeries(T300, EXC300_HOMO, EXC300_LUMO), legend: excLegend(1136)}),
  Object.assign({}, COL2, {T: 931.7, B: 1121, yr: [1.79, 2.0], yt: Y_TICKS_OCC250, my: 0.025, dec: 2, ytx: 525, xty: 1144.3,
    series: occSeries([[T_OCC, OCC300_HM7], [T_OCC, OCC300_HM6], [T_OCC, OCC300_HM5], [T_OCC, OCC300_HM4], [T_OCC, OCC300_HM3], [T_OCC, OCC300_HM2], [T300, OCC300_HM1], [T300, OCC300_H]]),
    legend: occLegend(986)}),
  Object.assign({}, COL3, {L: 965, R: 1203, T: 936.7, B: 1121.7, yr: [0, 0.14], yt: Y_TICKS_VIR300, my: 0.005, dec: 2, ytx: 929.3, xty: 1144,
    series: virSeries([[T300, VIR300_L], [T300, VIR300_L1], [T300, VIR300_L2], [T300, VIR300_L3], [T300, VIR300_L4], [T_VIR, VIR300_L5], [T_VIR, VIR300_L6], [T300, VIR300_L7], [T_VIR, VIR300_L8], [T_VIR, VIR300_L9]]),
    legend: virLegend(988.3, 1213)})
];

// --------------- table frame and text ---------------
[12, 102, 371, 638, 906].forEach(y => {
  const d = document.createElement('div'); d.className = 'hl'; d.style.top = (y - 0.75) + 'px'; document.body.appendChild(d);
});
const mc = document.createElement('canvas').getContext('2d');
mc.font = "100px Lato, 'Open Sans', sans-serif";
const FS = 273 / mc.measureText(HEADERS[2]).width * 100;
function addText(t, x, cy) {
  const d = document.createElement('div'); d.className = 'tx'; d.textContent = t;
  d.style.fontSize = FS.toFixed(2) + 'px'; d.style.left = x + 'px'; d.style.top = (cy - FS * 0.55) + 'px';
  document.body.appendChild(d);
}
addText(HEADERS[0], 25, 35);
addText(HEADERS[1], 25, 78);
addText(HEADERS[2], 123, 57);
addText(HEADERS[3], 499, 57);
addText(HEADERS[4], 903, 57);
const ROW_Y = [237, 505, 773, 1041];
ROWS.forEach((r, i) => addText(r, 25, ROW_Y[i]));

charts.forEach(makeChart);
</script>
</body></html>
